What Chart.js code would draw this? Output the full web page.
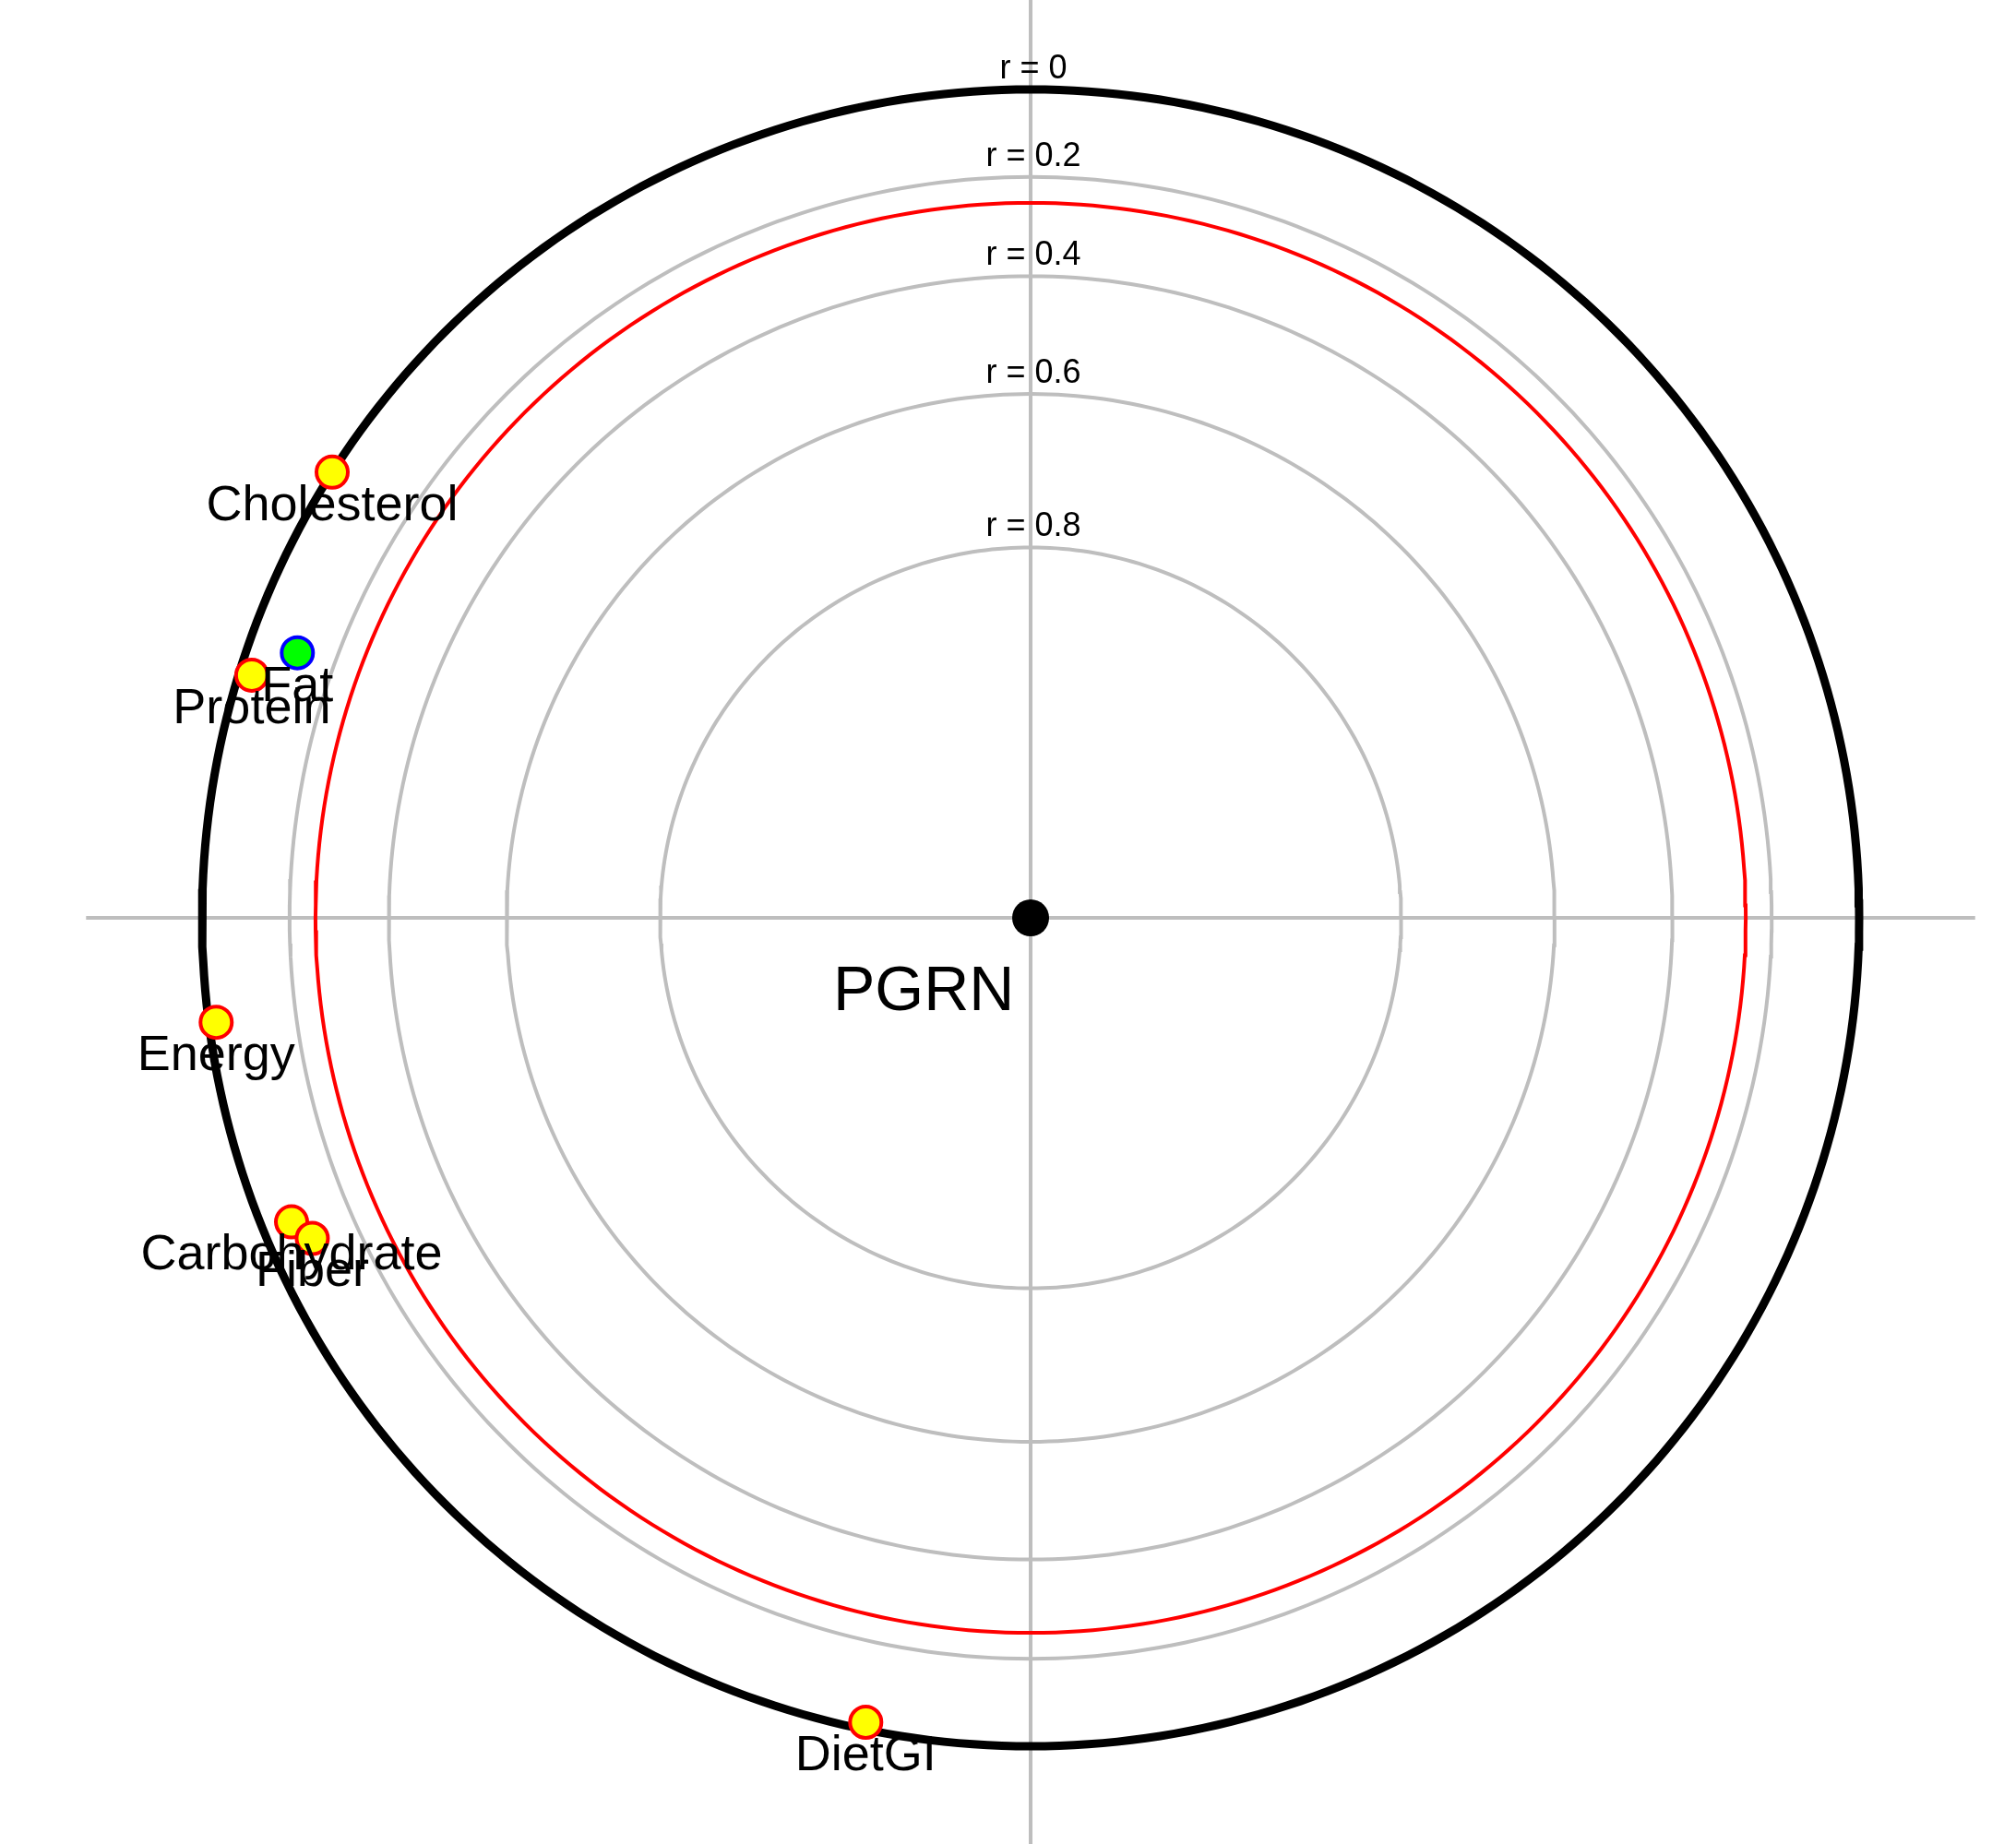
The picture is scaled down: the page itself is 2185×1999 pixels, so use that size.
<!DOCTYPE html>
<html>
<head>
<meta charset="utf-8">
<title>PGRN correlation globe</title>
<script src="https://cdn.jsdelivr.net/npm/chart.js@4.4.1/dist/chart.umd.min.js"></script>
<style>
  html, body { margin: 0; padding: 0; background: #ffffff; }
  #wrap { width: 2185px; height: 1999px; }
</style>
</head>
<body>
<div id="wrap"><canvas id="globe" width="2185" height="1999"></canvas></div>
<script>
// variables placed on the globe (position)
var varNames = ['Cholesterol', 'Fat', 'Protein', 'Energy', 'Carbohydrate', 'Fiber', 'DietGI'];
var varX = [-0.843, -0.885, -0.940, -0.983, -0.892, -0.867, -0.199];
var varY = [0.538, 0.320, 0.293, -0.126, -0.367, -0.387, -0.971];
var varFill = ['#ffff00', '#00ff00', '#ffff00', '#ffff00', '#ffff00', '#ffff00', '#ffff00'];
var varBorder = ['#ff0000', '#0000ff', '#ff0000', '#ff0000', '#ff0000', '#ff0000', '#ff0000'];

// reference circles: r values, radius on the globe = sqrt(1 - r)
var rLevels = [0.2, 0.4, 0.6, 0.8];
var rLabels = ['r = 0', 'r = 0.2', 'r = 0.4', 'r = 0.6', 'r = 0.8'];
var rThreshold = 0.255;

var centerName = 'PGRN';

function circlePoints(r) {
    var rad = Math.sqrt(1 - r);
    var pts = [];
    for (var a = 0; a <= 360; a += 1) {
        var t = a * Math.PI / 180;
        pts.push({ x: rad * Math.cos(t), y: rad * Math.sin(t) });
    }
    return pts;
}

var datasets = [];

// the variables, drawn on top
datasets.push({
    data: varX.map(function (x, i) { return { x: x, y: varY[i] }; }),
    backgroundColor: varFill,
    borderColor: varBorder,
    borderWidth: 4,
    pointRadius: 17,
    showLine: false,
    order: 0
});

// centre point
datasets.push({
    data: [{ x: 0, y: 0 }],
    backgroundColor: '#000000',
    borderColor: '#000000',
    borderWidth: 0,
    pointRadius: 20,
    showLine: false,
    order: 1
});

// outer circle r = 0
datasets.push({
    data: circlePoints(0),
    borderColor: '#000000',
    borderWidth: 9,
    pointRadius: 0,
    showLine: true,
    order: 2
});

// significance circle
datasets.push({
    data: circlePoints(rThreshold),
    borderColor: '#ff0000',
    borderWidth: 4,
    pointRadius: 0,
    showLine: true,
    order: 3
});

rLevels.forEach(function (r) {
    datasets.push({
        data: circlePoints(r),
        borderColor: '#bebebe',
        borderWidth: 4,
        pointRadius: 0,
        showLine: true,
        order: 4
    });
});

// axes through the centre
datasets.push({
    data: [{ x: -1.14, y: 0 }, { x: 1.14, y: 0 }],
    borderColor: '#bebebe',
    borderWidth: 4,
    pointRadius: 0,
    showLine: true,
    order: 5
});
datasets.push({
    data: [{ x: 0, y: -1.2 }, { x: 0, y: 1.2 }],
    borderColor: '#bebebe',
    borderWidth: 4,
    pointRadius: 0,
    showLine: true,
    order: 5
});

// text: r labels, variable names, centre name
var textPlugin = {
    id: 'globeText',
    afterDatasetsDraw: function (chart) {
        var ctx = chart.ctx;
        var xs = chart.scales.x, ys = chart.scales.y;
        ctx.save();
        ctx.fillStyle = '#000000';
        ctx.textAlign = 'center';

        // r = ... above each circle
        ctx.font = '36px "Liberation Sans", Arial, sans-serif';
        ctx.textBaseline = 'alphabetic';
        var levels = [0].concat(rLevels);
        levels.forEach(function (r, i) {
            var top = ys.getPixelForValue(Math.sqrt(1 - r));
            ctx.fillText(rLabels[i], xs.getPixelForValue(0) + 3, top - 12);
        });

        // variable names below their points
        ctx.font = '54px "Liberation Sans", Arial, sans-serif';
        ctx.textBaseline = 'middle';
        varNames.forEach(function (name, i) {
            var px = xs.getPixelForValue(varX[i]);
            var py = ys.getPixelForValue(varY[i]);
            ctx.fillText(name, px, py + 37);
        });

        // centre name
        ctx.font = '68px "Liberation Sans", Arial, sans-serif';
        ctx.fillText(centerName, xs.getPixelForValue(-0.129), ys.getPixelForValue(-0.090));
        ctx.restore();
    }
};

new Chart(document.getElementById('globe').getContext('2d'), {
    type: 'scatter',
    data: { datasets: datasets },
    options: {
        responsive: false,
        devicePixelRatio: 1,
        animation: false,
        layout: { padding: 0, autoPadding: false },
        plugins: {
            legend: { display: false },
            tooltip: { enabled: false }
        },
        elements: { line: { tension: 0, fill: false } },
        scales: {
            x: { type: 'linear', display: false, min: -1.2439, max: 1.1893 },
            y: { type: 'linear', display: false, min: -1.1180, max: 1.1080 }
        }
    },
    plugins: [textPlugin]
});
</script>
</body>
</html>
